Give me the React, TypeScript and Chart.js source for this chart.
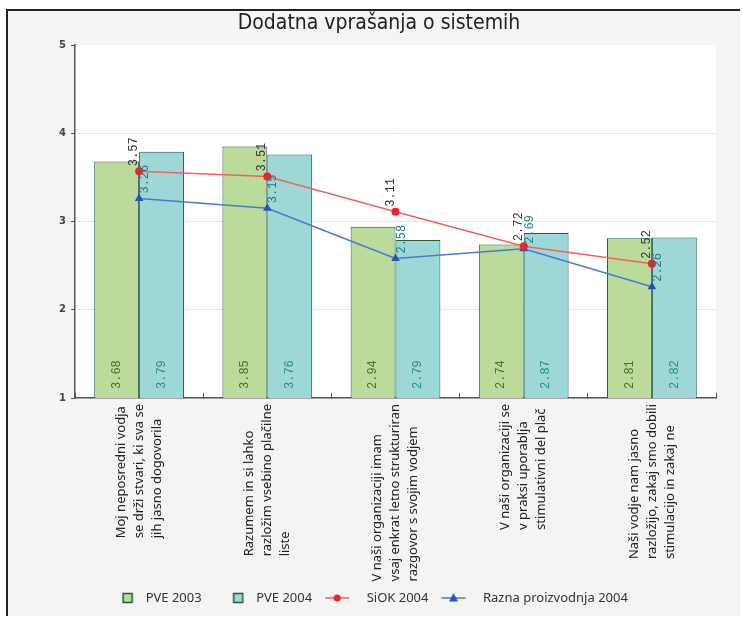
import { useEffect, useRef } from 'react';
import { Chart, registerables } from 'chart.js';

Chart.register(...registerables);

const chartTitle = 'Dodatna vprašanja o sistemih';
const categories: string[][] = [
  ['Moj neposredni vodja', 'se drži stvari, ki sva se', 'jih jasno dogovorila'],
  ['Razumem in si lahko', 'razložim vsebino plačilne', 'liste'],
  ['V naši organizaciji imam', 'vsaj enkrat letno strukturiran', 'razgovor s svojim vodjem'],
  ['V naši organizaciji se', 'v praksi uporablja', 'stimulativni del plač'],
  ['Naši vodje nam jasno', 'razložijo, zakaj smo dobili', 'stimulacijo in zakaj ne'],
];
const seriesNames = ['PVE 2003', 'PVE 2004', 'SiOK 2004', 'Razna proizvodnja 2004'];
const pve2003 = [3.68, 3.85, 2.94, 2.74, 2.81];
const pve2004 = [3.79, 3.76, 2.79, 2.87, 2.82];
const siok2004 = [3.57, 3.51, 3.11, 2.72, 2.52];
const razna2004 = [3.26, 3.15, 2.58, 2.69, 2.26];
const yMin = 1;
const yMax = 5;
const yStep = 1;

const GREEN = '#badb9c';
const TEAL = '#9dd8d6';
const BAR_BORDER = '#2d5646';
const RED_LINE = '#f0625c';
const RED_PT = '#e8262a';
const BLUE_LINE = '#4a78d4';
const BLUE_PT = '#2352c4';

const ICON_W = 40;

function makeIcon(kind: 'rect' | 'circle' | 'triangle', fill: string, stroke: string) {
  const c = document.createElement('canvas');
  c.width = ICON_W;
  c.height = 14;
  const g = c.getContext('2d')!;
  const mid = ICON_W / 2;
  if (kind === 'rect') {
    const sx = mid + 8.5 - 4.5;
    g.fillStyle = fill;
    g.fillRect(sx, 2.5, 9, 9);
    g.strokeStyle = stroke;
    g.lineWidth = 1.5;
    g.strokeRect(sx, 2.5, 9, 9);
  } else {
    const mx = mid - 3;
    g.strokeStyle = stroke;
    g.lineWidth = 1.5;
    g.beginPath();
    g.moveTo(mx - 12, 7);
    g.lineTo(mx + 12, 7);
    g.stroke();
    g.fillStyle = fill;
    g.beginPath();
    if (kind === 'circle') {
      g.arc(mx, 7, 3.5, 0, Math.PI * 2);
    } else {
      g.moveTo(mx, 2);
      g.lineTo(mx + 4.5, 10.5);
      g.lineTo(mx - 4.5, 10.5);
      g.closePath();
    }
    g.fill();
  }
  return c;
}

const customPlugin = {
  id: 'customDraw',
  beforeDraw(chart: any) {
    const { ctx, chartArea } = chart;
    ctx.save();
    ctx.fillStyle = '#ffffff';
    ctx.fillRect(chartArea.left, chartArea.top, chartArea.right - chartArea.left, chartArea.bottom - chartArea.top);
    ctx.restore();
  },
  afterDatasetsDraw(chart: any) {
    const { ctx, chartArea } = chart;
    ctx.save();
    ctx.font = '12px "Liberation Mono"';
    ctx.textBaseline = 'middle';
    ctx.textAlign = 'left';
    const barColors = ['#4d6e2c', '#2a8c8c'];
    [0, 1].forEach((di) => {
      const meta = chart.getDatasetMeta(di);
      const data = chart.data.datasets[di].data as number[];
      meta.data.forEach((el: any, i: number) => {
        ctx.save();
        ctx.fillStyle = barColors[di];
        ctx.translate(el.x, chartArea.bottom - 9);
        ctx.rotate(-Math.PI / 2);
        ctx.fillText(data[i].toFixed(2), 0, 0);
        ctx.restore();
      });
    });
    const lineCfg: { [k: number]: { dx: number; color: string } } = {
      2: { dx: -5, color: '#333333' },
      3: { dx: 6, color: '#1f7d84' },
    };
    [2, 3].forEach((di) => {
      const meta = chart.getDatasetMeta(di);
      const data = chart.data.datasets[di].data as number[];
      meta.data.forEach((el: any, i: number) => {
        ctx.save();
        ctx.fillStyle = lineCfg[di].color;
        ctx.translate(el.x + lineCfg[di].dx, el.y - 5);
        ctx.rotate(-Math.PI / 2);
        ctx.fillText(data[i].toFixed(2), 0, 0);
        ctx.restore();
      });
    });
    ctx.restore();
  },
  afterDraw(chart: any) {
    const { ctx } = chart;
    const xs = chart.scales.x;
    ctx.save();
    // title
    ctx.font = '21px "DejaVu Sans Condensed", "DejaVu Sans"';
    ctx.fillStyle = '#222222';
    ctx.textAlign = 'center';
    ctx.textBaseline = 'middle';
    ctx.fillText(chartTitle, 379, 24);
    // category labels
    ctx.font = '13px "Noto Sans"';
    ctx.fillStyle = '#222222';
    ctx.textBaseline = 'middle';
    ctx.textAlign = 'left';
    const lh = 18;
    categories.forEach((lines, i) => {
      const cx = xs.getPixelForValue(i);
      const maxW = Math.max(...lines.map((l) => ctx.measureText(l).width));
      const bottom = xs.top + 6 + maxW;
      lines.forEach((line, j) => {
        const lx = cx + (j - (lines.length - 1) / 2) * lh;
        ctx.save();
        ctx.translate(lx, bottom);
        ctx.rotate(-Math.PI / 2);
        ctx.fillText(line, 0, 0);
        ctx.restore();
      });
    });
    ctx.restore();
  },
};

export default function App() {
  const ref = useRef<HTMLCanvasElement | null>(null);

  useEffect(() => {
    if (!ref.current) return;
    const icons = [
      makeIcon('rect', GREEN, BAR_BORDER),
      makeIcon('rect', TEAL, BAR_BORDER),
      makeIcon('circle', RED_PT, RED_LINE),
      makeIcon('triangle', BLUE_PT, BLUE_LINE),
    ];
    const chart = new Chart(ref.current, {
      type: 'bar',
      data: {
        labels: categories,
        datasets: [
          {
            type: 'bar',
            label: seriesNames[0],
            data: pve2003,
            backgroundColor: GREEN,
            borderColor: BAR_BORDER,
            borderWidth: 1,
            borderSkipped: false,
            categoryPercentage: 0.7,
            barPercentage: 1.0,
            order: 2,
          },
          {
            type: 'bar',
            label: seriesNames[1],
            data: pve2004,
            backgroundColor: TEAL,
            borderColor: BAR_BORDER,
            borderWidth: 1,
            borderSkipped: false,
            categoryPercentage: 0.7,
            barPercentage: 1.0,
            order: 2,
          },
          {
            type: 'line',
            label: seriesNames[2],
            data: siok2004,
            borderColor: RED_LINE,
            borderWidth: 1.5,
            pointStyle: 'circle',
            pointRadius: 4,
            pointBackgroundColor: RED_PT,
            pointBorderColor: RED_PT,
            pointBorderWidth: 0,
            order: 1,
          },
          {
            type: 'line',
            label: seriesNames[3],
            data: razna2004,
            borderColor: BLUE_LINE,
            borderWidth: 1.5,
            pointStyle: 'triangle',
            pointRadius: 5,
            pointBackgroundColor: BLUE_PT,
            pointBorderColor: BLUE_PT,
            pointBorderWidth: 0,
            order: 1,
          },
        ] as any,
      },
      options: {
        animation: false,
        responsive: false,
        devicePixelRatio: 1,
        events: [],
        layout: { padding: { top: 45, left: 0, right: 15, bottom: 3.5 } },
        plugins: {
          title: { display: false },
          legend: {
            display: true,
            position: 'bottom',
            labels: {
              usePointStyle: true,
              pointStyleWidth: ICON_W,
              padding: 8,
              color: '#333333',
              font: { family: '"Noto Sans"', size: 13 },
              generateLabels: () =>
                seriesNames.map((name, i) => ({
                  text: name,
                  pointStyle: icons[i],
                  fillStyle: 'transparent',
                  strokeStyle: 'transparent',
                  lineWidth: 0,
                  hidden: false,
                  datasetIndex: i,
                  fontColor: '#333333',
                })) as any,
            },
          },
          tooltip: { enabled: false },
        },
        scales: {
          x: {
            type: 'category',
            offset: true,
            grid: {
              display: true,
              drawOnChartArea: false,
              offset: true,
              tickLength: -5,
              tickColor: '#555555',
              tickWidth: 1,
            },
            border: { display: true, color: '#555555', width: 1.5 },
            ticks: { display: false },
            afterFit: (s: any) => {
              s.height = 185.5;
            },
          },
          y: {
            type: 'linear',
            min: yMin,
            max: yMax,
            ticks: {
              stepSize: yStep,
              color: '#444444',
              padding: 5,
              font: { family: '"DejaVu Sans"', size: 10, weight: 'bold' },
            },
            grid: {
              color: (c: any) =>
                c.tick && (c.tick.value === yMax || c.tick.value === yMin) ? 'rgba(0,0,0,0)' : '#e6e6e6',
              tickColor: '#555555',
              tickLength: 4,
              lineWidth: 1,
            },
            border: { display: true, color: '#555555', width: 1.5 },
            afterFit: (s: any) => {
              s.width = 75;
            },
          },
          y2: {
            type: 'linear',
            position: 'right',
            display: true,
            grid: { display: false },
            border: { display: false },
            ticks: { display: false },
            afterFit: (s: any) => {
              s.width = 11;
            },
          },
        },
      } as any,
      plugins: [customPlugin],
    });
    return () => chart.destroy();
  }, []);

  return (
    <div style={{ position: 'fixed', left: 0, top: 0, width: 742, height: 618, background: '#ffffff' }}>
      <div
        style={{
          position: 'absolute',
          left: 6,
          top: 9,
          width: 732,
          height: 605,
          background: '#f4f4f2',
          borderTop: '2px solid #222',
          borderLeft: '2px solid #222',
        }}
      />
      <canvas ref={ref} width={742} height={618} style={{ position: 'absolute', left: 0, top: 0, width: 742, height: 618 }} />
    </div>
  );
}
